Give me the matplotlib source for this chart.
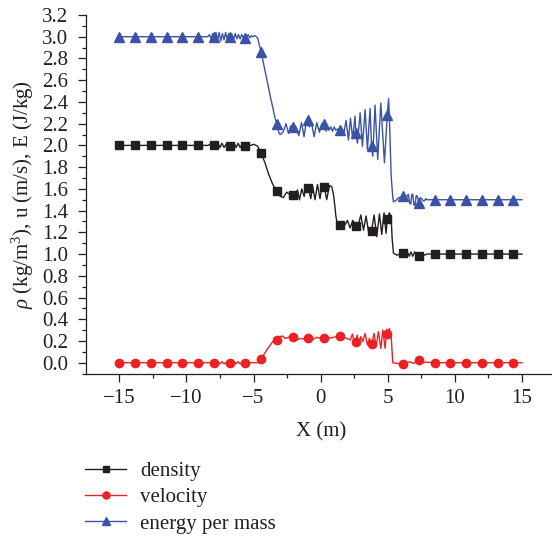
import matplotlib
matplotlib.use("Agg")
import matplotlib.pyplot as plt
from matplotlib.lines import Line2D
from matplotlib.ticker import MultipleLocator, FormatStrFormatter

plt.rcParams["font.family"] = ["Liberation Serif", "DejaVu Serif"]
plt.rcParams["mathtext.fontset"] = "custom"
plt.rcParams["mathtext.rm"] = "Liberation Serif"
plt.rcParams["mathtext.it"] = "Liberation Serif:italic"

# ---- solution profiles along x ----
density_x = [-15.0, -8.50, -8.40, -8.25, -8.10, -7.95, -7.80, -7.65, -7.50, -7.35, -7.20, -7.05,
             -6.90, -6.78, -6.60, -6.45, -6.30, -6.15, -6.00, -5.85, -5.72, -5.60, -5.40, -5.20,
             -5.00, -4.80, -4.68, -4.44, -4.15, -3.89, -3.60, -3.40, -3.26, -3.10, -3.00, -2.78,
             -2.53, -2.33, -2.08, -1.91, -1.73, -1.58, -1.41, -1.23, -1.09, -0.91, -0.74, -0.59,
             -0.42, -0.24, -0.05, 0.13, 0.27, 0.45, 0.65, 0.82, 0.95, 1.05, 1.13, 1.22,
             1.44, 1.64, 1.82, 1.99, 2.19, 2.39, 2.62, 2.81, 2.99, 3.19, 3.38, 3.56,
             3.79, 3.98, 4.18, 4.38, 4.55, 4.72, 4.87, 4.96, 5.12, 5.25, 5.32, 5.42,
             5.67, 5.90, 6.14, 6.30, 6.45, 6.60, 6.72, 6.86, 7.00, 7.15, 7.31, 7.45,
             7.60, 7.75, 7.90, 15.0]
density_y = [2.00, 2.00, 2.00, 2.01, 1.99, 2.00, 2.00, 2.02, 1.98, 2.02, 1.98, 2.01,
             2.00, 1.99, 2.00, 2.02, 1.98, 2.02, 1.98, 2.01, 1.99, 1.99, 2.00, 2.00,
             2.01, 2.00, 1.99, 1.93, 1.84, 1.74, 1.65, 1.60, 1.58, 1.55, 1.53, 1.52,
             1.57, 1.55, 1.545, 1.53, 1.59, 1.50, 1.60, 1.53, 1.62, 1.61, 1.51, 1.62,
             1.50, 1.64, 1.51, 1.65, 1.62, 1.50, 1.63, 1.62, 1.55, 1.45, 1.35, 1.29,
             1.27, 1.30, 1.27, 1.31, 1.24, 1.31, 1.26, 1.27, 1.36, 1.22, 1.35, 1.21,
             1.215, 1.36, 1.16, 1.37, 1.18, 1.38, 1.19, 1.32, 1.38, 1.34, 1.15, 1.01,
             0.99, 1.00, 1.01, 1.00, 1.02, 0.98, 1.02, 0.98, 1.02, 0.98, 0.98, 1.00,
             1.00, 0.99, 1.00, 1.00]

velocity_x = [-15.0, -8.50, -7.80, -7.65, -7.50, -7.35, -7.20, -7.05, -6.78, -6.60, -6.45, -6.30,
              -6.15, -6.00, -5.85, -5.60, -4.76, -4.44, -4.02, -3.57, -3.26, -3.03, -2.83, -2.65,
              -2.40, -2.08, -1.78, -1.48, -1.16, -0.91, -0.59, -0.29, -0.04, 0.27, 0.58, 0.95,
              1.25, 1.44, 1.69, 1.94, 2.19, 2.37, 2.49, 2.62, 2.72, 2.84, 2.99, 3.14,
              3.31, 3.48, 3.63, 3.79, 3.98, 4.13, 4.30, 4.48, 4.63, 4.80, 4.92, 4.96,
              5.12, 5.25, 5.37, 5.67, 6.14, 6.41, 6.66, 6.91, 7.16, 7.31, 7.53, 7.78,
              8.50, 15.0]
velocity_y = [0.000, 0.000, 0.000, 0.010, -0.010, 0.010, -0.010, 0.000, 0.000, 0.000, 0.010, -0.010,
              0.010, -0.010, 0.000, 0.000, 0.000, 0.034, 0.117, 0.194, 0.209, 0.240, 0.246, 0.224,
              0.234, 0.240, 0.209, 0.224, 0.215, 0.225, 0.215, 0.234, 0.224, 0.230, 0.224, 0.234,
              0.240, 0.245, 0.234, 0.224, 0.209, 0.264, 0.178, 0.190, 0.255, 0.163, 0.240, 0.194,
              0.270, 0.163, 0.224, 0.170, 0.270, 0.148, 0.286, 0.132, 0.301, 0.132, 0.307, 0.260,
              0.316, 0.250, 0.000, -0.006, -0.012, 0.000, 0.009, -0.006, 0.015, 0.025, 0.000, 0.006,
              0.000, 0.000]

energy_x = [-15.0, -8.50, -8.40, -8.28, -8.16, -8.04, -7.95, -7.92, -7.80, -7.68, -7.56, -7.44,
            -7.32, -7.20, -7.08, -6.96, -6.84, -6.72, -6.60, -6.48, -6.36, -6.24, -6.12, -6.00,
            -5.88, -5.76, -5.64, -5.52, -5.40, -5.28, -5.16, -5.04, -4.92, -4.80, -4.70, -4.44,
            -4.20, -3.95, -3.75, -3.57, -3.40, -3.26, -3.12, -3.02, -2.90, -2.78, -2.58, -2.40,
            -2.23, -2.08, -1.95, -1.83, -1.63, -1.43, -1.24, -1.04, -0.91, -0.84, -0.67, -0.49,
            -0.29, -0.09, 0.08, 0.27, 0.40, 0.50, 0.62, 0.75, 0.88, 1.00, 1.12, 1.25,
            1.44, 1.58, 1.74, 1.89, 2.07, 2.22, 2.38, 2.56, 2.62, 2.74, 2.94, 3.11,
            3.31, 3.48, 3.68, 3.79, 3.88, 4.05, 4.25, 4.48, 4.75, 4.96, 5.06, 5.13,
            5.25, 5.36, 5.42, 5.55, 5.67, 5.80, 5.92, 6.05, 6.14, 6.28, 6.36, 6.45,
            6.54, 6.62, 6.71, 6.79, 6.86, 6.95, 7.03, 7.12, 7.21, 7.31, 7.43, 7.53,
            7.63, 7.73, 7.83, 7.90, 8.15, 15.0]
energy_y = [3.00, 3.00, 3.00, 3.02, 2.98, 3.03, 3.00, 2.97, 3.04, 2.97, 3.04, 2.96,
            3.03, 2.97, 3.04, 2.98, 3.03, 2.97, 3.02, 2.98, 3.03, 2.98, 3.02, 2.98,
            3.02, 2.99, 3.02, 2.99, 3.02, 2.99, 3.01, 3.00, 3.01, 3.00, 2.99, 2.86,
            2.72, 2.57, 2.45, 2.35, 2.25, 2.20, 2.12, 2.10, 2.11, 2.13, 2.20, 2.11,
            2.18, 2.17, 2.12, 2.17, 2.09, 2.21, 2.08, 2.24, 2.23, 2.17, 2.20, 2.08,
            2.21, 2.12, 2.20, 2.20, 2.13, 2.18, 2.14, 2.17, 2.13, 2.17, 2.14, 2.15,
            2.14, 2.15, 2.12, 2.23, 2.05, 2.25, 2.06, 2.27, 2.11, 2.02, 2.30, 1.99,
            2.33, 1.96, 2.34, 1.99, 1.90, 2.37, 1.87, 2.39, 1.84, 2.28, 2.43, 2.22,
            1.72, 1.54, 1.48, 1.49, 1.50, 1.52, 1.52, 1.53, 1.535, 1.50, 1.49, 1.54,
            1.55, 1.47, 1.46, 1.55, 1.55, 1.45, 1.45, 1.54, 1.53, 1.47, 1.52, 1.51,
            1.49, 1.49, 1.51, 1.50, 1.50, 1.50]

# ---- sampled marker positions ----
marker_x = [-15.00, -13.83, -12.65, -11.48, -10.30, -9.13, -7.95, -6.78, -5.60, -4.44,
            -3.26, -2.08, -0.91, 0.27, 1.44, 2.62, 3.79, 4.96, 6.14, 7.31,
            8.49, 9.66, 10.84, 12.01, 13.19, 14.36]
density_m = [2.00, 2.00, 2.00, 2.00, 2.00, 2.00, 2.00, 1.99, 1.99, 1.93,
             1.58, 1.545, 1.61, 1.62, 1.27, 1.26, 1.215, 1.32, 1.01, 0.98,
             1.00, 1.00, 1.00, 1.00, 1.00, 1.00]
velocity_m = [0.00, 0.00, 0.00, 0.00, 0.00, 0.00, 0.00, 0.00, 0.00, 0.034,
              0.209, 0.240, 0.225, 0.230, 0.245, 0.190, 0.170, 0.260, -0.012, 0.025,
              0.00, 0.00, 0.00, 0.00, 0.00, 0.00]
energy_m = [3.00, 3.00, 3.00, 3.00, 3.00, 3.00, 3.00, 3.00, 2.99, 2.86,
            2.20, 2.17, 2.23, 2.20, 2.14, 2.11, 1.99, 2.28, 1.535, 1.47,
            1.50, 1.50, 1.50, 1.50, 1.50, 1.50]

labels = ["density", "velocity", "energy per mass"]
colors = ["#231f20", "#ed2124", "#3a53a4"]
markers = ["s", "o", "^"]
msizes = [5.2, 6.0, 7.0]

W, H = 552, 538
fig = plt.figure(figsize=(W / 100, H / 100), dpi=100)
left, right, top, bottom = 85.75, 555.6, 15.0, 373.6
ax = fig.add_axes([left / W, 1 - bottom / H, (right - left) / W, (bottom - top) / H])

series = [(density_x, density_y, density_m), (velocity_x, velocity_y, velocity_m),
          (energy_x, energy_y, energy_m)]
handles = []
for (lx, ly, my), c, m, ms, lab in zip(series, colors, markers, msizes, labels):
    ax.plot(lx, ly, color=c, lw=1.0, zorder=2)
    ax.plot(marker_x, my, linestyle="none", marker=m, ms=ms, color=c, mec=c, zorder=3)
    handles.append(Line2D([], [], color=c, lw=1.0, marker=m, ms=ms * 0.85, mec=c))

ax.set_xlim(-17.5, 17.5)
ax.set_ylim(-0.1, 3.2)
ax.set_xticks([-15, -10, -5, 0, 5, 10, 15])
ax.set_xticks([-12.5, -7.5, -2.5, 2.5, 7.5, 12.5], minor=True)
ax.yaxis.set_major_locator(MultipleLocator(0.2))
ax.yaxis.set_minor_locator(MultipleLocator(0.1))
ax.yaxis.set_major_formatter(FormatStrFormatter("%.1f"))

for s in ("top", "right"):
    ax.spines[s].set_visible(False)
for s in ("left", "bottom"):
    ax.spines[s].set_linewidth(0.9)
    ax.spines[s].set_color("#231f20")
ax.tick_params(which="major", direction="out", length=6, width=0.9, labelsize=15,
               color="#231f20", labelcolor="#231f20")
ax.tick_params(axis="x", which="major", pad=5)
ax.tick_params(axis="y", which="major", pad=6.5)
ax.tick_params(which="minor", direction="out", length=3, width=0.9, color="#231f20")

ax.set_xlabel("X (m)", fontsize=15, color="#231f20", labelpad=10)
ax.set_ylabel(r"$\rho$ (kg/m$^3$), u (m/s), E (J/kg)", fontsize=15, color="#231f20",
              labelpad=4.5)

fig.legend(handles, labels, loc="upper left", bbox_to_anchor=(84.8 / W, 1 - 461.5 / H),
           frameon=False, fontsize=15, borderpad=0, borderaxespad=0, handlelength=2.0,
           handletextpad=0.65, labelspacing=0.32, labelcolor="#231f20")

fig.savefig("out.png", dpi=100)
